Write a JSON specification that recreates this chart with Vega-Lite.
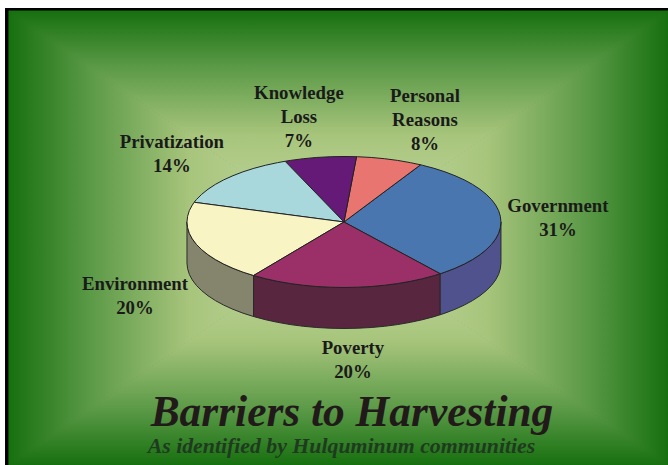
{"$schema":"https://vega.github.io/schema/vega-lite/v6.json","width":668,"height":465,"autosize":"none","padding":0,"background":"white","config":{"view":{"stroke":null}},
"datasets":{
"frame":[{"x":-2.159,"x2":2.064,"y":3.267,"y2":-3.71}],
"bg":[{"s":"top","i":0,"x":-2.134,"y":3.221},{"s":"top","i":1,"x":2.064,"y":3.221},{"s":"top","i":2,"x":-0.038,"y":-0.244},{"s":"top","i":3,"x":-2.134,"y":3.221},
{"s":"bottom","i":0,"x":-2.134,"y":-3.71},{"s":"bottom","i":1,"x":2.064,"y":-3.71},{"s":"bottom","i":2,"x":-0.038,"y":-0.244},{"s":"bottom","i":3,"x":-2.134,"y":-3.71},
{"s":"left","i":0,"x":-2.134,"y":3.221},{"s":"left","i":1,"x":-2.134,"y":-3.71},{"s":"left","i":2,"x":-0.038,"y":-0.244},{"s":"left","i":3,"x":-2.134,"y":3.221},
{"s":"right","i":0,"x":2.064,"y":3.221},{"s":"right","i":1,"x":2.064,"y":-3.71},{"s":"right","i":2,"x":-0.038,"y":-0.244},{"s":"right","i":3,"x":2.064,"y":3.221}],
"sides":[
{"s":"Environment","x":-1,"y":0,"y2":-0.626},{"s":"Environment","x":-0.996,"y":-0.087,"y2":-0.713},{"s":"Environment","x":-0.985,"y":-0.174,"y2":-0.8},{"s":"Environment","x":-0.966,"y":-0.259,"y2":-0.885},{"s":"Environment","x":-0.94,"y":-0.342,"y2":-0.968},{"s":"Environment","x":-0.906,"y":-0.423,"y2":-1.049},{"s":"Environment","x":-0.866,"y":-0.5,"y2":-1.126},{"s":"Environment","x":-0.819,"y":-0.574,"y2":-1.2},{"s":"Environment","x":-0.766,"y":-0.643,"y2":-1.269},{"s":"Environment","x":-0.707,"y":-0.707,"y2":-1.333},{"s":"Environment","x":-0.643,"y":-0.766,"y2":-1.392},{"s":"Environment","x":-0.576,"y":-0.817,"y2":-1.443},
{"s":"Poverty","x":-0.576,"y":-0.817,"y2":-1.443},{"s":"Poverty","x":-0.5,"y":-0.866,"y2":-1.492},{"s":"Poverty","x":-0.423,"y":-0.906,"y2":-1.532},{"s":"Poverty","x":-0.342,"y":-0.94,"y2":-1.566},{"s":"Poverty","x":-0.259,"y":-0.966,"y2":-1.592},{"s":"Poverty","x":-0.174,"y":-0.985,"y2":-1.611},{"s":"Poverty","x":-0.087,"y":-0.996,"y2":-1.622},{"s":"Poverty","x":0,"y":-1,"y2":-1.626},{"s":"Poverty","x":0.087,"y":-0.996,"y2":-1.622},{"s":"Poverty","x":0.174,"y":-0.985,"y2":-1.611},{"s":"Poverty","x":0.259,"y":-0.966,"y2":-1.592},{"s":"Poverty","x":0.342,"y":-0.94,"y2":-1.566},{"s":"Poverty","x":0.423,"y":-0.906,"y2":-1.532},{"s":"Poverty","x":0.5,"y":-0.866,"y2":-1.492},{"s":"Poverty","x":0.574,"y":-0.819,"y2":-1.445},{"s":"Poverty","x":0.613,"y":-0.79,"y2":-1.416},
{"s":"Government","x":0.613,"y":-0.79,"y2":-1.416},{"s":"Government","x":0.643,"y":-0.766,"y2":-1.392},{"s":"Government","x":0.707,"y":-0.707,"y2":-1.333},{"s":"Government","x":0.766,"y":-0.643,"y2":-1.269},{"s":"Government","x":0.819,"y":-0.574,"y2":-1.2},{"s":"Government","x":0.866,"y":-0.5,"y2":-1.126},{"s":"Government","x":0.906,"y":-0.423,"y2":-1.049},{"s":"Government","x":0.94,"y":-0.342,"y2":-0.968},{"s":"Government","x":0.966,"y":-0.259,"y2":-0.885},{"s":"Government","x":0.985,"y":-0.174,"y2":-0.8},{"s":"Government","x":0.996,"y":-0.087,"y2":-0.713},{"s":"Government","x":1,"y":0,"y2":-0.626}],
"top":[
{"s":"Government","i":0,"x":0,"y":0},{"s":"Government","i":1,"x":0.613,"y":-0.79},{"s":"Government","i":2,"x":0.643,"y":-0.766},{"s":"Government","i":3,"x":0.707,"y":-0.707},{"s":"Government","i":4,"x":0.766,"y":-0.643},{"s":"Government","i":5,"x":0.819,"y":-0.574},{"s":"Government","i":6,"x":0.866,"y":-0.5},{"s":"Government","i":7,"x":0.906,"y":-0.423},{"s":"Government","i":8,"x":0.94,"y":-0.342},{"s":"Government","i":9,"x":0.966,"y":-0.259},{"s":"Government","i":10,"x":0.985,"y":-0.174},{"s":"Government","i":11,"x":0.996,"y":-0.087},{"s":"Government","i":12,"x":1,"y":0},{"s":"Government","i":13,"x":0.996,"y":0.087},{"s":"Government","i":14,"x":0.985,"y":0.174},{"s":"Government","i":15,"x":0.966,"y":0.259},{"s":"Government","i":16,"x":0.94,"y":0.342},{"s":"Government","i":17,"x":0.906,"y":0.423},{"s":"Government","i":18,"x":0.866,"y":0.5},{"s":"Government","i":19,"x":0.819,"y":0.574},{"s":"Government","i":20,"x":0.766,"y":0.643},{"s":"Government","i":21,"x":0.707,"y":0.707},{"s":"Government","i":22,"x":0.643,"y":0.766},{"s":"Government","i":23,"x":0.574,"y":0.819},{"s":"Government","i":24,"x":0.5,"y":0.866},{"s":"Government","i":25,"x":0.488,"y":0.873},{"s":"Government","i":26,"x":0,"y":0},
{"s":"Personal","i":0,"x":0,"y":0},{"s":"Personal","i":1,"x":0.488,"y":0.873},{"s":"Personal","i":2,"x":0.423,"y":0.906},{"s":"Personal","i":3,"x":0.342,"y":0.94},{"s":"Personal","i":4,"x":0.259,"y":0.966},{"s":"Personal","i":5,"x":0.174,"y":0.985},{"s":"Personal","i":6,"x":0.087,"y":0.996},{"s":"Personal","i":7,"x":0.08,"y":0.997},{"s":"Personal","i":8,"x":0,"y":0},
{"s":"Knowledge","i":0,"x":0,"y":0},{"s":"Knowledge","i":1,"x":0.08,"y":0.997},{"s":"Knowledge","i":2,"x":0,"y":1},{"s":"Knowledge","i":3,"x":-0.087,"y":0.996},{"s":"Knowledge","i":4,"x":-0.174,"y":0.985},{"s":"Knowledge","i":5,"x":-0.259,"y":0.966},{"s":"Knowledge","i":6,"x":-0.342,"y":0.94},{"s":"Knowledge","i":7,"x":-0.375,"y":0.927},{"s":"Knowledge","i":8,"x":0,"y":0},
{"s":"Privatization","i":0,"x":0,"y":0},{"s":"Privatization","i":1,"x":-0.375,"y":0.927},{"s":"Privatization","i":2,"x":-0.423,"y":0.906},{"s":"Privatization","i":3,"x":-0.5,"y":0.866},{"s":"Privatization","i":4,"x":-0.574,"y":0.819},{"s":"Privatization","i":5,"x":-0.643,"y":0.766},{"s":"Privatization","i":6,"x":-0.707,"y":0.707},{"s":"Privatization","i":7,"x":-0.766,"y":0.643},{"s":"Privatization","i":8,"x":-0.819,"y":0.574},{"s":"Privatization","i":9,"x":-0.866,"y":0.5},{"s":"Privatization","i":10,"x":-0.906,"y":0.423},{"s":"Privatization","i":11,"x":-0.94,"y":0.342},{"s":"Privatization","i":12,"x":-0.954,"y":0.301},{"s":"Privatization","i":13,"x":0,"y":0},
{"s":"Environment","i":0,"x":0,"y":0},{"s":"Environment","i":1,"x":-0.954,"y":0.301},{"s":"Environment","i":2,"x":-0.966,"y":0.259},{"s":"Environment","i":3,"x":-0.985,"y":0.174},{"s":"Environment","i":4,"x":-0.996,"y":0.087},{"s":"Environment","i":5,"x":-1,"y":0},{"s":"Environment","i":6,"x":-0.996,"y":-0.087},{"s":"Environment","i":7,"x":-0.985,"y":-0.174},{"s":"Environment","i":8,"x":-0.966,"y":-0.259},{"s":"Environment","i":9,"x":-0.94,"y":-0.342},{"s":"Environment","i":10,"x":-0.906,"y":-0.423},{"s":"Environment","i":11,"x":-0.866,"y":-0.5},{"s":"Environment","i":12,"x":-0.819,"y":-0.574},{"s":"Environment","i":13,"x":-0.766,"y":-0.643},{"s":"Environment","i":14,"x":-0.707,"y":-0.707},{"s":"Environment","i":15,"x":-0.643,"y":-0.766},{"s":"Environment","i":16,"x":-0.576,"y":-0.817},{"s":"Environment","i":17,"x":0,"y":0},
{"s":"Poverty","i":0,"x":0,"y":0},{"s":"Poverty","i":1,"x":-0.576,"y":-0.817},{"s":"Poverty","i":2,"x":-0.5,"y":-0.866},{"s":"Poverty","i":3,"x":-0.423,"y":-0.906},{"s":"Poverty","i":4,"x":-0.342,"y":-0.94},{"s":"Poverty","i":5,"x":-0.259,"y":-0.966},{"s":"Poverty","i":6,"x":-0.174,"y":-0.985},{"s":"Poverty","i":7,"x":-0.087,"y":-0.996},{"s":"Poverty","i":8,"x":0,"y":-1},{"s":"Poverty","i":9,"x":0.087,"y":-0.996},{"s":"Poverty","i":10,"x":0.174,"y":-0.985},{"s":"Poverty","i":11,"x":0.259,"y":-0.966},{"s":"Poverty","i":12,"x":0.342,"y":-0.94},{"s":"Poverty","i":13,"x":0.423,"y":-0.906},{"s":"Poverty","i":14,"x":0.5,"y":-0.866},{"s":"Poverty","i":15,"x":0.574,"y":-0.819},{"s":"Poverty","i":16,"x":0.613,"y":-0.79},{"s":"Poverty","i":17,"x":0,"y":0}],
"labels":[
{"t":"Knowledge\nLoss\n7%","x":-0.287,"y":1.97},
{"t":"Personal\nReasons\n8%","x":0.516,"y":1.925},
{"t":"Privatization\n14%","x":-1.096,"y":1.225},
{"t":"Government\n31%","x":1.363,"y":0.245},
{"t":"Environment\n20%","x":-1.331,"y":-0.945},
{"t":"Poverty\n20%","x":0.057,"y":-1.925}],
"titles":[{"t":"Barriers to Harvesting","x":0.051,"y":-2.915}],
"subs":[{"t":"As identified by Hulquminum communities","x":-0.016,"y":-3.415}]
},
"encoding":{
"x":{"field":"x","type":"quantitative","axis":null,"scale":{"domain":[-2.191,2.064],"nice":false,"zero":false}},
"y":{"field":"y","type":"quantitative","axis":null,"scale":{"domain":[-3.71,3.389],"nice":false,"zero":false}}},
"layer":[
{"data":{"name":"frame"},"mark":{"type":"rect","fill":"#000000"},"encoding":{"x2":{"field":"x2"},"y2":{"field":"y2"}}},
{"data":{"name":"bg"},"transform":[{"filter":"datum.s==='top'"}],"mark":{"type":"line","strokeWidth":1,"stroke":{"gradient":"linear","x1":0,"y1":0,"x2":0,"y2":1,"stops":[{"offset":0,"color":"#17700f"},{"offset":0.25,"color":"#5c9a48"},{"offset":0.55,"color":"#a8c57c"},{"offset":1,"color":"#c4dca8"}]},"fill":{"gradient":"linear","x1":0,"y1":0,"x2":0,"y2":1,"stops":[{"offset":0,"color":"#17700f"},{"offset":0.25,"color":"#5c9a48"},{"offset":0.55,"color":"#a8c57c"},{"offset":1,"color":"#c4dca8"}]}},"encoding":{"order":{"field":"i"}}},
{"data":{"name":"bg"},"transform":[{"filter":"datum.s==='bottom'"}],"mark":{"type":"line","strokeWidth":1,"stroke":{"gradient":"linear","x1":0,"y1":1,"x2":0,"y2":0,"stops":[{"offset":0,"color":"#17700f"},{"offset":0.25,"color":"#5c9a48"},{"offset":0.55,"color":"#a8c57c"},{"offset":1,"color":"#c4dca8"}]},"fill":{"gradient":"linear","x1":0,"y1":1,"x2":0,"y2":0,"stops":[{"offset":0,"color":"#17700f"},{"offset":0.25,"color":"#5c9a48"},{"offset":0.55,"color":"#a8c57c"},{"offset":1,"color":"#c4dca8"}]}},"encoding":{"order":{"field":"i"}}},
{"data":{"name":"bg"},"transform":[{"filter":"datum.s==='left'"}],"mark":{"type":"line","strokeWidth":1,"stroke":{"gradient":"linear","x1":0,"y1":0,"x2":1,"y2":0,"stops":[{"offset":0,"color":"#17700f"},{"offset":0.25,"color":"#5c9a48"},{"offset":0.55,"color":"#a8c57c"},{"offset":1,"color":"#c4dca8"}]},"fill":{"gradient":"linear","x1":0,"y1":0,"x2":1,"y2":0,"stops":[{"offset":0,"color":"#17700f"},{"offset":0.25,"color":"#5c9a48"},{"offset":0.55,"color":"#a8c57c"},{"offset":1,"color":"#c4dca8"}]}},"encoding":{"order":{"field":"i"}}},
{"data":{"name":"bg"},"transform":[{"filter":"datum.s==='right'"}],"mark":{"type":"line","strokeWidth":1,"stroke":{"gradient":"linear","x1":1,"y1":0,"x2":0,"y2":0,"stops":[{"offset":0,"color":"#17700f"},{"offset":0.25,"color":"#5c9a48"},{"offset":0.55,"color":"#a8c57c"},{"offset":1,"color":"#c4dca8"}]},"fill":{"gradient":"linear","x1":1,"y1":0,"x2":0,"y2":0,"stops":[{"offset":0,"color":"#17700f"},{"offset":0.25,"color":"#5c9a48"},{"offset":0.55,"color":"#a8c57c"},{"offset":1,"color":"#c4dca8"}]}},"encoding":{"order":{"field":"i"}}},
{"data":{"name":"sides"},"mark":{"type":"area","stroke":"#2a2a2a","strokeWidth":1},"encoding":{"y2":{"field":"y2"},"fill":{"field":"s","type":"nominal","legend":null,"scale":{"domain":["Environment","Poverty","Government"],"range":["#85856e","#58263f","#50528e"]}}}},
{"data":{"name":"top"},"mark":{"type":"line","stroke":"#222222","strokeWidth":1},"encoding":{"detail":{"field":"s"},"order":{"field":"i"},"fill":{"field":"s","type":"nominal","legend":null,"scale":{"domain":["Government","Personal","Knowledge","Privatization","Environment","Poverty"],"range":["#4a76b0","#e8756f","#661a78","#a8d8dc","#f8f4c4","#9b3068"]}}}},
{"data":{"name":"labels"},"mark":{"type":"text","font":"Liberation Serif","fontWeight":"bold","fontSize":18.8,"fill":"#1a1a1a","lineBreak":"\n","lineHeight":24,"align":"center","baseline":"middle"},"encoding":{"text":{"field":"t"}}},
{"data":{"name":"titles"},"mark":{"type":"text","font":"Liberation Serif","fontWeight":"bold","fontStyle":"italic","fontSize":43.4,"fill":"#221a1a","align":"center","baseline":"middle"},"encoding":{"text":{"field":"t"}}},
{"data":{"name":"subs"},"mark":{"type":"text","font":"Liberation Serif","fontWeight":"bold","fontStyle":"italic","fontSize":21.8,"fill":"#1f3a20","align":"center","baseline":"middle"},"encoding":{"text":{"field":"t"}}}
],
"resolve":{"scale":{"fill":"independent"}}}
